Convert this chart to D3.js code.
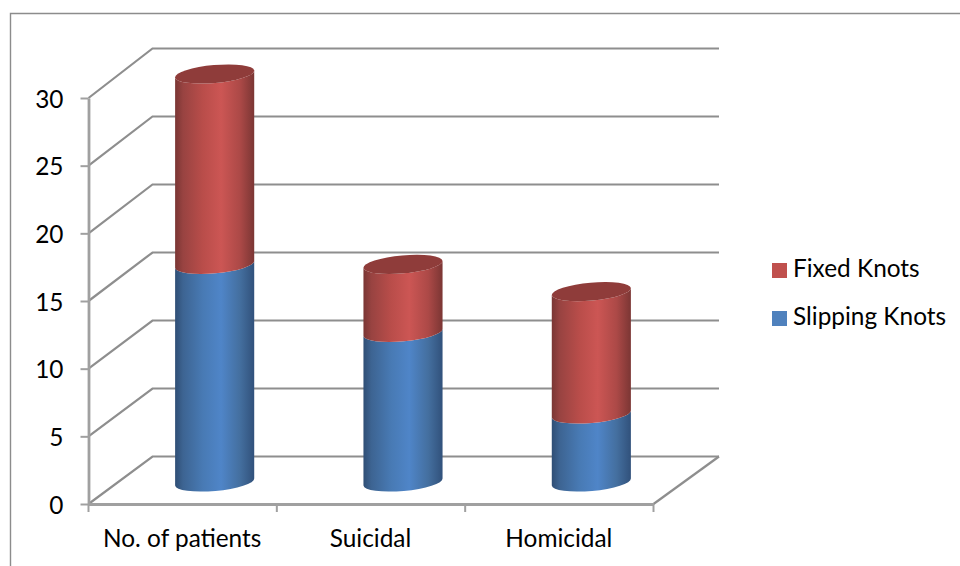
<!DOCTYPE html>
<html>
<head>
<meta charset="utf-8">
<script src="https://cdn.jsdelivr.net/npm/d3@7"></script>
<style>
  html, body { margin: 0; padding: 0; background: #fff; }
  svg { display: block; }
  text { font-family: Lato, "Open Sans", sans-serif; fill: #000; }
</style>
</head>
<body>
<svg id="chart" width="960" height="566"></svg>
<script>
const categories = ["No. of patients", "Suicidal", "Homicidal"];
const slippingKnots = [16, 11, 5];
const fixedKnots = [14, 5, 9];
const yTicks = [0, 5, 10, 15, 20, 25, 30];
const seriesNames = ["Fixed Knots", "Slipping Knots"];

const svg = d3.select("#chart");
const gridColor = "#8e8e8e";
const axisColor = "#a0a0a0";

// Outer frame runs off the right and bottom of the page
svg.append("path")
  .attr("d", "M10.5,566V13.5H960")
  .attr("fill", "none").attr("stroke", "#8c8c8c").attr("stroke-width", 1.4);

// Oblique projection: front plane, back wall, and the plane through the column axes
const depthX = 64;
const x = d3.scaleBand().domain(categories).range([88.5, 653.5]);
const yFront = d3.scaleLinear().domain([0, 30]).range([504, 98]);
const yBack = d3.scaleLinear().domain([0, 30]).range([456.5, 48.5]);
const yMid = d3.scaleLinear().domain([0, 30]).range([482, 74]);
const backRight = 719;

// Back wall gridlines with their diagonal run down the side wall
const grid = svg.append("g").attr("fill", "none");
grid.selectAll("path").data(yTicks).join("path")
  .attr("d", d => `M${x.range()[0]},${yFront(d)}L${x.range()[0] + depthX},${yBack(d)}H${backRight}`)
  .attr("stroke", gridColor).attr("stroke-width", 2.2);
// Right edge of the floor
grid.append("path")
  .attr("d", `M${x.range()[1]},${yFront(0)}L${backRight},${yBack(0)}`)
  .attr("stroke", gridColor).attr("stroke-width", 2.2);

// Axes sit on the front plane
const yAxis = svg.append("g")
  .attr("transform", `translate(${x.range()[0]},0)`)
  .call(d3.axisLeft(yFront).tickValues(yTicks).tickSize(8).tickPadding(17).tickSizeOuter(0));
const xAxis = svg.append("g")
  .attr("transform", `translate(0,${yFront(0)})`)
  .call(d3.axisBottom(x).tickSize(0).tickPadding(26).tickSizeOuter(0));
xAxis.selectAll(".tick")
  .attr("transform", d => `translate(${x(d) + x.bandwidth() / 2 - 0.5},0)`);
xAxis.selectAll("g.sep").data(x.domain().concat("end")).join("line")
  .attr("x1", (d, i) => x.range()[0] + i * x.step()).attr("x2", (d, i) => x.range()[0] + i * x.step())
  .attr("y1", 0).attr("y2", 8)
  .attr("stroke", axisColor).attr("stroke-width", 2);
yAxis.selectAll(".tick line").attr("stroke", axisColor).attr("stroke-width", 2);
yAxis.select(".domain").attr("stroke", axisColor).attr("stroke-width", 2.8);
xAxis.select(".domain").attr("stroke", axisColor).attr("stroke-width", 2.8);
svg.selectAll(".tick text").style("font-family", "Lato, sans-serif").style("font-size", "24.4px").attr("fill", "#000");
yAxis.selectAll(".tick text").attr("dy", "0.38em");
xAxis.selectAll(".tick text").attr("dy", "0.71em");

// Horizontal shading that gives each column its round look
const defs = svg.append("defs");
function shade(id, stops) {
  const g = defs.append("linearGradient").attr("id", id);
  stops.forEach(([o, c]) => g.append("stop").attr("offset", o).attr("stop-color", c));
}
shade("redSide", [[0, "#7a3634"], [0.1, "#984341"], [0.35, "#b94d4a"], [0.58, "#cc5654"], [0.82, "#ac4947"], [1, "#7b3634"]]);
shade("blueSide", [[0, "#2f4e75"], [0.1, "#3d6492"], [0.35, "#487aB4"], [0.58, "#4f85c8"], [0.82, "#446f9f"], [1, "#31517b"]]);

// Elliptical ends are tilted a few degrees by the chart's rotation
const halfW = x.bandwidth() * 0.21;
const rise = 3.5;
const rx = Math.hypot(halfW, rise);
const ry = 9;
const tilt = -Math.atan2(rise, halfW) * 180 / Math.PI;

function sidePath(cx, v0, v1) {
  const b = yMid(v0), t = yMid(v1);
  const lx = cx - halfW, rxp = cx + halfW;
  return `M${lx},${t + rise}L${lx},${b + rise}` +
    `A${rx},${ry} ${tilt} 0 0 ${rxp},${b - rise}` +
    `L${rxp},${t - rise}` +
    `A${rx},${ry} ${tilt} 0 1 ${lx},${t + rise}Z`;
}

const columns = categories.map((c, i) => ({
  cx: x(c) + x.bandwidth() / 2 + depthX / 2,
  slip: slippingKnots[i],
  fixed: fixedKnots[i]
}));

const cols = svg.append("g").selectAll("g").data(columns).join("g");
cols.append("path")
  .attr("d", d => sidePath(d.cx, 0, d.slip))
  .attr("fill", "url(#blueSide)");
cols.append("path")
  .attr("d", d => sidePath(d.cx, d.slip, d.slip + d.fixed))
  .attr("fill", "url(#redSide)");
cols.append("ellipse")
  .attr("transform", d => `translate(${d.cx},${yMid(d.slip + d.fixed)}) rotate(${tilt})`)
  .attr("rx", rx).attr("ry", ry)
  .attr("fill", "#8f3c3a");

// Legend
const legendColors = ["#c0504d", "#4f81bd"];
const legend = svg.append("g").selectAll("g").data(seriesNames).join("g")
  .attr("transform", (d, i) => `translate(772,${263 + i * 48})`);
legend.append("rect").attr("width", 15).attr("height", 15).attr("fill", (d, i) => legendColors[i]);
legend.append("text").attr("x", 21).attr("y", 14)
  .style("font-size", "24.4px").text(d => d);
</script>
</body>
</html>
